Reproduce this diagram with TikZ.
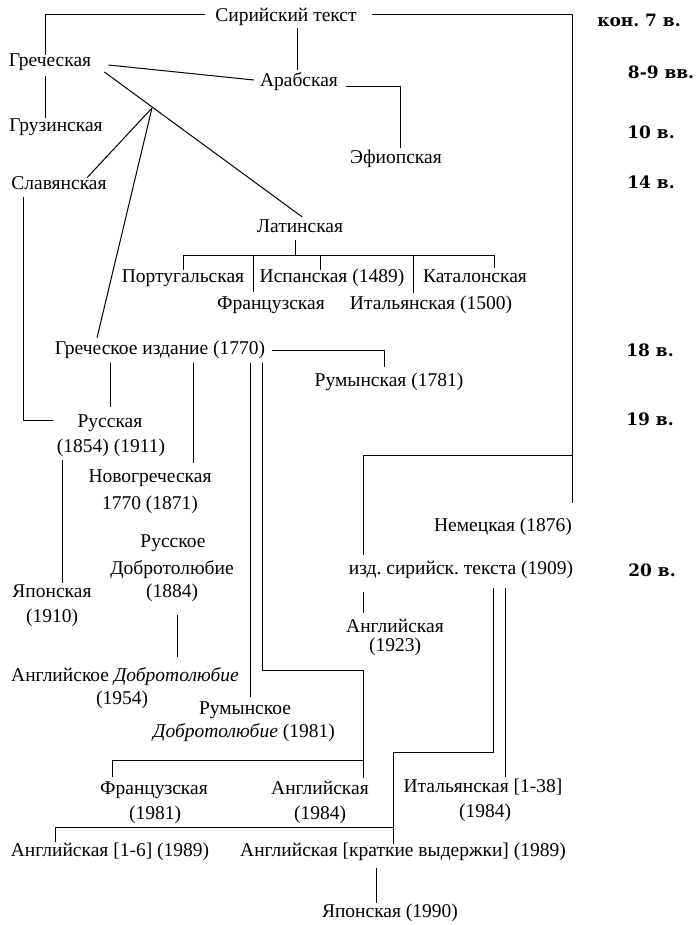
\documentclass[tikz,border=0pt]{standalone}
\usepackage{fontspec}
\setmainfont{Liberation Serif}
\newfontfamily\labfont{DejaVu Serif}
\usetikzlibrary{calc}
\frenchspacing
\begin{document}
\begin{tikzpicture}[x=1pt,y=-1pt,
  t/.style={inner sep=0pt, text height=12pt, text depth=4pt, font=\fontsize{19.5}{22}\selectfont},
  cent/.style={inner sep=0pt, text height=13pt, text depth=0pt, anchor=center, font=\labfont\bfseries\fontsize{17}{20}\selectfont},
  ln/.style={line width=1pt, line cap=butt}]
\useasboundingbox (0,0) rectangle (700,925);

% century labels
\node[cent] (kon) at (639,20) {кон. 7 в.};
\node[cent] (v89) at (661,72) {8-9 вв.};
\node[cent] (v10) at (651,132) {10 в.};
\node[cent] (v14) at (651,182) {14 в.};
\node[cent] (v18) at (650,350) {18 в.};
\node[cent] (v19) at (650,419) {19 в.};
\node[cent] (v20) at (652,570) {20 в.};

% text nodes
\node[t] (syr) at (286,18) {Сирийский текст};
\node[t] (grec) at (50,63) {Греческая};
\node[t] (arab) at (299,83) {Арабская};
\node[t] (gruz) at (56,128) {Грузинская};
\node[t] (efi) at (396,160) {Эфиопская};
\node[t] (slav) at (59,186) {Славянская};
\node[t] (lat) at (300,229) {Латинская};
\node[t] (port) at (183,278) {Португальская};
\node[t] (isp) at (332,278) {Испанская (1489)};
\node[t] (kat) at (475,278) {Каталонская};
\node[t] (fr) at (271,305) {Французская};
\node[t] (ital) at (431,305) {Итальянская (1500)};
\node[t] (gred) at (160,350) {Греческое издание (1770)};
\node[t] (rum) at (389,382) {Румынская (1781)};
\node[t] (rus1) at (110,423) {Русская};
\node[t] (rus2) at (111,448) {(1854) (1911)};
\node[t] (ngr1) at (150,478) {Новогреческая};
\node[t] (ngr2) at (150,505) {1770 (1871)};
\node[t] (rdob1) at (173,543) {Русское};
\node[t] (rdob2) at (172,570) {Добротолюбие};
\node[t] (rdob3) at (172,593) {(1884)};
\node[t] (jap1) at (52,593) {Японская};
\node[t] (jap2) at (52,618) {(1910)};
\node[t] (nem) at (503,527) {Немецкая (1876)};
\node[t] (izd) at (461,570) {изд. сирийск. текста (1909)};
\node[t] (eng23a) at (395,628) {Английская};
\node[t] (eng23b) at (395,647) {(1923)};
\node[t] (edob1) at (125,677) {Английское \textit{Добротолюбие}};
\node[t] (edob2) at (122,700) {(1954)};
\node[t] (rumd1) at (245,710) {Румынское};
\node[t] (rumd2) at (244,733) {\textit{Добротолюбие} (1981)};
\node[t] (fr81a) at (154,790) {Французская};
\node[t] (fr81b) at (155,815) {(1981)};
\node[t] (en84a) at (320,790) {Английская};
\node[t] (en84b) at (320,815) {(1984)};
\node[t] (it84a) at (483,788) {Итальянская [1-38]};
\node[t] (it84b) at (485,813) {(1984)};
\node[t] (en89) at (110,852) {Английская [1-6] (1989)};
\node[t] (enkr) at (403,852) {Английская [краткие выдержки] (1989)};
\node[t] (jap90) at (390,913) {Японская (1990)};

% junctions
\coordinate (J) at (152,108);
\coordinate (b1) at (572,455);
\coordinate (K) at (363,670);
\coordinate (K2) at (363,760);
\coordinate (K3) at (393,752);
\coordinate (K4) at (393,827);
\coordinate (lb) at (295,256);

% connectors
\draw[ln] ([xshift=-10pt,yshift=3pt]syr.west) -| ([xshift=-5pt]grec.north);
\draw[ln] ([xshift=-5pt,yshift=-5pt]grec.south) -- ([xshift=-11pt,yshift=2pt]gruz.north);
\draw[ln] ([xshift=11pt,yshift=-2pt]syr.south) -- ([xshift=-2pt,yshift=5pt]arab.north);
\draw[ln] ([xshift=15pt,yshift=3pt]syr.east) -| ([xshift=69pt,yshift=16pt]nem.north);
\draw[ln] (b1) -| ([xshift=-98pt,yshift=7pt]izd.north);
\draw[ln] ([xshift=-98pt,yshift=-14pt]izd.south) -- ([xshift=-32pt,yshift=7pt]eng23a.north);
\draw[ln] ([xshift=17pt,yshift=-2pt]grec.east) -- ([xshift=-6pt,yshift=3pt]arab.west);
\draw[ln] ([xshift=8pt,yshift=-4pt]arab.east) -| ([xshift=4pt,yshift=4pt]efi.north);
\draw[ln] ([xshift=13pt,yshift=-9pt]grec.east) -- ([xshift=2pt,yshift=4pt]lat.north);
\draw[ln] (J) -- ([xshift=28pt]slav.north);
\draw[ln] (J) -- ([xshift=-63pt,yshift=4pt]gred.north);
% Latin tree
\draw[ln] ([xshift=-5pt,yshift=-3pt]lat.south) -- (lb);
\draw[ln] (port.north) |- ([xshift=19pt,yshift=14pt]kat.north) -- ([xshift=19pt,yshift=2pt]kat.north);
\draw[ln] ([xshift=-18pt,yshift=5pt]fr.north) -- ++(0,-36);
\draw[ln] ([xshift=-12pt]isp.north) -- ++(0,-14);
\draw[ln] ([xshift=-18pt,yshift=4pt]ital.north) -- ++(0,-37);
% Greek edition
\draw[ln] ([xshift=7pt]gred.east) -| ([xshift=-5pt,yshift=7pt]rum.north);
\draw[ln] ([xshift=-50pt,yshift=-5pt]gred.south) -- ([yshift=8pt]rus1.north);
\draw[ln] ([xshift=-36pt,yshift=-3pt]slav.south) |- ([xshift=-24pt,yshift=3pt]rus1.west);
\draw[ln] ([xshift=33pt,yshift=-5pt]gred.south) -- ([xshift=43pt,yshift=7pt]ngr1.north);
\draw[ln] ([xshift=90pt,yshift=-5pt]gred.south) -- ([xshift=5pt,yshift=5pt]rumd1.north);
\draw[ln] ([xshift=102pt,yshift=-5pt]gred.south) |- (K) -- ([xshift=43pt,yshift=4pt]en84a.north);
\draw[ln] (K2) -| ([xshift=-42pt,yshift=5pt]fr81a.north);
% Syriac edition
\draw[ln] ([xshift=32pt,yshift=-10pt]izd.south) |- (K3) -- ([xshift=-10pt]enkr.north);
\draw[ln] (K4) -| ([xshift=-55pt,yshift=2pt]en89.north);
\draw[ln] ([xshift=44pt,yshift=-10pt]izd.south) -- ([xshift=22pt,yshift=3pt]it84a.north);
\draw[ln] ([xshift=-27pt,yshift=-8pt]enkr.south) -- ([xshift=-14pt,yshift=2pt]jap90.north);
% others
\draw[ln] ([xshift=-49pt,yshift=-4pt]rus2.south) -- ([xshift=10pt,yshift=2pt]jap1.north);
\draw[ln] ([xshift=5pt,yshift=-14pt]rdob3.south) -- ([xshift=52pt,yshift=12pt]edob1.north);
\end{tikzpicture}
\end{document}
